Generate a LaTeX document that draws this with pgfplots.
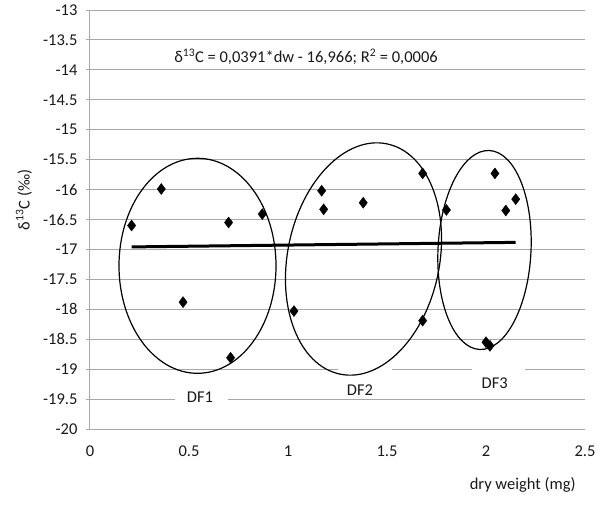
\documentclass[border=0pt]{standalone}
\usepackage{pgfplots}
\pgfplotsset{compat=1.18}
\usepackage{fontspec}
\setmainfont{Carlito}
\definecolor{gridc}{HTML}{A8A8A8}
\newcommand{\cf}{\fontsize{16.5}{19}\selectfont}
\begin{document}
\begin{tikzpicture}[x=1pt,y=1pt]
\useasboundingbox (-90,-77) rectangle (514,429);
\begin{axis}[
  at={(0,0)}, anchor=south west,
  scale only axis, width=495pt, height=419pt,
  xmin=0, xmax=2.5, ymin=-20, ymax=-13,
  xtick={0,0.5,1,1.5,2,2.5},
  ytick={-20,-19.5,-19,-18.5,-18,-17.5,-17,-16.5,-16,-15.5,-15,-14.5,-14,-13.5,-13},
  axis x line*=bottom, axis y line*=left,
  axis line style={gridc, line width=1pt},
  ymajorgrids, major grid style={gridc, line width=1pt},
  ytick style={gridc, line width=1pt}, tick align=outside, major tick length=4pt,
  xtick style={draw=none},
  tick label style={font=\cf, text=black!90},
  /pgf/number format/assume math mode=true,
  xticklabel style={yshift=-9pt},
  yticklabel style={xshift=-5pt},
  clip=false,
]
\addplot[only marks, mark=diamond*, mark size=5.5pt, black] coordinates {
  (0.21,-16.60) (0.36,-15.99) (0.70,-16.55) (0.87,-16.41) (0.47,-17.88)
  (0.71,-18.81) (1.03,-18.03) (1.17,-16.02) (1.18,-16.33) (1.38,-16.22)
  (1.68,-15.73) (1.68,-18.19) (1.80,-16.34) (2.045,-15.73) (2.10,-16.35)
  (2.15,-16.16) (2.00,-18.55) (2.02,-18.61)
};
\addplot[black, line width=3pt] coordinates {(0.21,-16.958) (2.15,-16.882)};
\end{axis}
% white boxes that interrupt grid lines behind labels
\fill[white] (85,24) rectangle (138,38);
\fill[white] (248,52) rectangle (302,67);
\fill[white] (382,52) rectangle (435,67);
% ellipses
\draw[line width=1.2pt] (107.5,163.2) ellipse [x radius=78.5pt, y radius=107.5pt];
\draw[line width=1.2pt, rotate around={-11.4:(273.5,170)}] (273.5,170) ellipse [x radius=76pt, y radius=117.5pt];
\draw[line width=1.2pt, rotate around={-2.8:(394.5,179)}] (394.5,179) ellipse [x radius=46.5pt, y radius=99.6pt];
% labels
\node[font=\cf, text=black!90] at (110,32.3) {DF1};
\node[font=\cf, text=black!90] at (270,39) {DF2};
\node[font=\cf, text=black!90] at (404.7,45.7) {DF3};
\node[font=\cf, text=black!90] at (216,372) {δ\textsuperscript{13}C = 0,0391*dw - 16,966; R\textsuperscript{2} = 0,0006};
\node[font=\cf, text=black!90, rotate=90] at (-66,229) {δ\textsuperscript{13}C (‰)};
\node[font=\cf, text=black!90] at (432.7,-56) {dry weight (mg)};
\end{tikzpicture}
\end{document}
